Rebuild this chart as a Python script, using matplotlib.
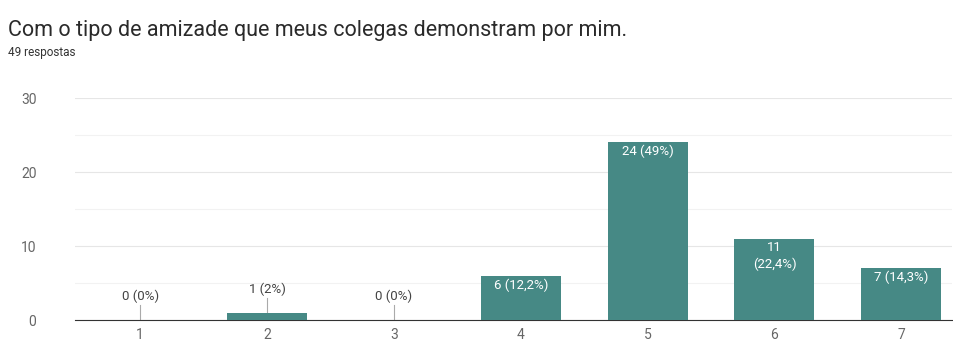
import matplotlib.pyplot as plt

categorias = [1, 2, 3, 4, 5, 6, 7]
respostas = [0, 1, 0, 6, 24, 11, 7]
rotulos = ['0 (0%)', '1 (2%)', '0 (0%)', '6 (12,2%)', '24 (49%)', '11\n(22,4%)', '7 (14,3%)']

titulo = 'Com o tipo de amizade que meus colegas demonstram por mim.'
subtitulo = '49 respostas'
cor = '#468985'

plt.rcParams['font.family'] = ['Roboto', 'DejaVu Sans']
fig = plt.figure(figsize=(9.54, 3.43), dpi=100)
ax = fig.add_axes([0.079, 0.067, 0.919, 0.647])

ax.bar(categorias, respostas, width=0.63, color=cor, zorder=3)

# rotulos: dentro da barra (branco) ou acima com linha guia
for x, v, r in zip(categorias, respostas, rotulos):
    if v >= 5:
        ax.text(x, v - 0.35, r, ha='center', va='top', color='white', fontsize=9.5, zorder=4, linespacing=1.3)
    else:
        ax.plot([x, x], [v, v + 2], color='#aaaaaa', lw=0.8, zorder=2)
        ax.text(x, v + 2.3, r, ha='center', va='bottom', color='#444444', fontsize=9.5)

ax.set_xlim(0.49, 7.4)
ax.set_ylim(0, 30)
ax.set_yticks([0, 10, 20, 30])
ax.set_yticks([5, 15, 25], minor=True)
ax.set_xticks(categorias)
ax.grid(axis='y', which='major', color='#e6e6e6', lw=0.8, zorder=0)
ax.grid(axis='y', which='minor', color='#f2f2f2', lw=0.8, zorder=0)
for s in ['top', 'right', 'left']:
    ax.spines[s].set_visible(False)
ax.spines['bottom'].set_color('#333333')
ax.tick_params(axis='both', which='both', length=0, labelsize=10, colors='#666666')
ax.tick_params(axis='y', pad=28)
ax.tick_params(axis='x', pad=6)

fig.text(0.008, 0.912, titulo, fontsize=15.5, color='#2a2a2a', va='center')
fig.text(0.008, 0.848, subtitulo, fontsize=8.5, color='#333333', va='center')

fig.savefig('out.png', dpi=100)
